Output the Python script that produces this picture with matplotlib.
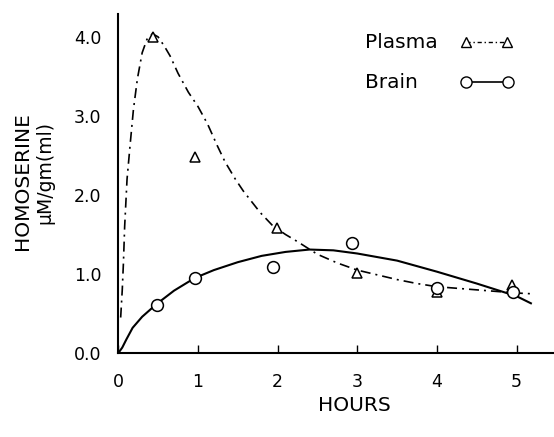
import matplotlib
matplotlib.use("Agg")
import matplotlib.pyplot as plt
from matplotlib.lines import Line2D

# measured points
plasma_x = [0.43, 0.96, 1.99, 3.0, 4.0, 4.94]
plasma_y = [4.0, 2.48, 1.58, 1.01, 0.77, 0.86]
brain_x = [0.48, 0.96, 1.94, 2.94, 4.0, 4.95]
brain_y = [0.61, 0.95, 1.09, 1.39, 0.82, 0.77]

# hand-drawn fitted curves
plasma_curve_x = [0.03, 0.05, 0.065, 0.08, 0.11, 0.15, 0.19, 0.24, 0.30, 0.36, 0.43, 0.50,
                  0.58, 0.65, 0.75, 0.88, 1.00, 1.12, 1.24, 1.34, 1.47, 1.57, 1.78, 1.94,
                  2.10, 2.25, 2.50, 2.75, 3.00, 3.25, 3.50, 3.75, 4.00, 4.50, 5.00, 5.20]
plasma_curve_y = [0.45, 0.80, 1.15, 1.60, 2.20, 2.65, 3.08, 3.47, 3.80, 3.97, 4.04, 4.00,
                  3.88, 3.76, 3.54, 3.30, 3.12, 2.90, 2.63, 2.42, 2.20, 2.05, 1.78, 1.61,
                  1.50, 1.41, 1.25, 1.14, 1.05, 0.99, 0.93, 0.88, 0.84, 0.80, 0.76, 0.75]
brain_curve_x = [0.0, 0.05, 0.10, 0.18, 0.30, 0.48, 0.70, 0.96, 1.20, 1.50, 1.80, 2.10,
                 2.40, 2.70, 3.00, 3.50, 4.00, 4.50, 5.00, 5.18]
brain_curve_y = [0.0, 0.07, 0.17, 0.32, 0.46, 0.62, 0.79, 0.95, 1.05, 1.15, 1.23, 1.28,
                 1.31, 1.30, 1.26, 1.17, 1.03, 0.88, 0.72, 0.63]

xticks = [0, 1, 2, 3, 4, 5]
xtick_labels = ["0", "1", "2", "3", "4", "5"]
yticks = [0.0, 1.0, 2.0, 3.0, 4.0]
ytick_labels = ["0.0", "1.0", "2.0", "3.0", "4.0"]
legend_labels = ["Plasma", "Brain"]

plt.rcParams['font.family'] = ['DejaVu Sans']

W, H = 554, 437
fig = plt.figure(figsize=(W / 100, H / 100), dpi=100)
ax = fig.add_axes([0.2135, 0.192, 0.7865, 0.776])
ax.set_xlim(0, 5.47)
ax.set_ylim(0, 4.29)

dd = (6, 3, 1.2, 3)
ax.plot(plasma_curve_x, plasma_curve_y, color='black', lw=1.2, dashes=dd)
ax.plot(brain_curve_x, brain_curve_y, color='black', lw=1.5, ls='-')
ax.plot(plasma_x, plasma_y, ls='none', marker='^', ms=7.5, mfc='white', mec='black', mew=1.1)
ax.plot(brain_x, brain_y, ls='none', marker='o', ms=8.5, mfc='white', mec='black', mew=1.1)

for s in ['top', 'right']:
    ax.spines[s].set_visible(False)
for s in ['left', 'bottom']:
    ax.spines[s].set_linewidth(1.5)

ax.set_xticks(xticks)
ax.set_xticklabels(xtick_labels)
ax.set_yticks(yticks)
ax.set_yticklabels(ytick_labels)
ax.tick_params(axis='x', direction='in', length=6, width=1.0, pad=14, labelsize=12.5)
ax.tick_params(axis='y', length=0, pad=12, labelsize=12.5)

fig.text(0.640, 0.073, "HOURS", ha='center', va='center', fontsize=14.5)
fig.text(0.040, 0.585, "HOMOSERINE", rotation=90, ha='center', va='center', fontsize=14.5)
fig.text(0.081, 0.605, "μM/gm(ml)", rotation=90, ha='center', va='center', fontsize=13.5)

# manual legend (text left, sample right)
def fx(px):
    return px / W

def fy(py):
    return 1 - py / H

rows = [42, 82]
fig.text(fx(365), fy(rows[0]), legend_labels[0], ha='left', va='center', fontsize=14.5)
fig.text(fx(365), fy(rows[1]), legend_labels[1], ha='left', va='center', fontsize=14.5)
fig.add_artist(Line2D([fx(466), fx(507)], [fy(rows[0]), fy(rows[0])], transform=fig.transFigure,
                      color='black', lw=1.0, dashes=(3, 2, 1, 2), marker='^', ms=7.5,
                      mfc='white', mec='black', mew=1.0))
fig.add_artist(Line2D([fx(466), fx(508)], [fy(rows[1]), fy(rows[1])], transform=fig.transFigure,
                      color='black', lw=1.2, ls='-', marker='o', ms=8.0,
                      mfc='white', mec='black', mew=1.0))

fig.savefig("out.png", dpi=100)
